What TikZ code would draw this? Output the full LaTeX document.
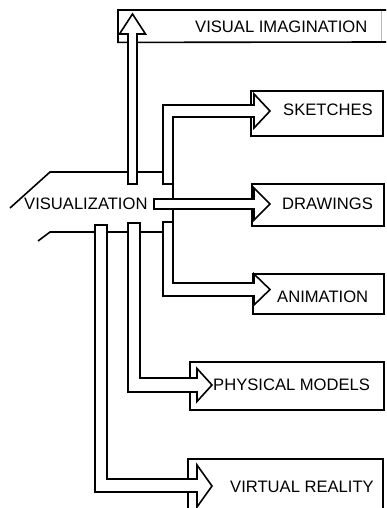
\documentclass[tikz,border=0pt]{standalone}
\usepackage{fontspec}
\setmainfont{Liberation Sans}
\begin{document}
\begin{tikzpicture}[x=1pt,y=-1pt,
  outline/.style={line width=1.6pt, line join=miter, miter limit=4},
  blockarrow/.style={outline, draw=black, fill=white},
  boxframe/.style={outline, draw=black, rectangle, inner sep=0pt, anchor=north west},
  caption/.style={inner sep=0pt, anchor=base west, font=\fontsize{16.6}{18}\selectfont}]
\useasboundingbox (0,0) rectangle (386,508);

% the visualization "plane"
\draw[outline] (10,208) -- (50,172) -- (165,172);
\draw[outline] (38,241) -- (50,232) -- (163,232);
\node[caption] (vis) at (24,209) {VISUALIZATION};

% target boxes
\node[boxframe, minimum width=132pt, minimum height=45pt] (sketchbox) at (250,90) {};
\node[boxframe, minimum width=132pt, minimum height=42pt] (drawbox) at (251,183) {};
\node[boxframe, minimum width=131pt, minimum height=40pt] (animbox) at (252,273) {};
\node[boxframe, minimum width=194pt, minimum height=48pt] (modelbox) at (189,361) {};
% box running off the right and bottom edges
\node[inner sep=0pt, minimum width=263pt, minimum height=32pt, anchor=north west] (imagbox) at (118,10) {};
\draw[outline] (386,10) -- (imagbox.north west) -- (imagbox.south west) -- (386,42);
\draw[gray!55, line width=0.8pt] (381,11) -- (381,41);
\coordinate (vrtl) at (188,459);
\coordinate (vrtr) at (383,459);
\draw[outline] (188,510) -- (vrtl) -- (vrtr) -- (383,510);

% link between the upper and lower vertical stems
\draw[outline] (173,184) -- (173,223);

% block arrows
\draw[blockarrow] (128,184) -- (128,34) -- (119.5,34) -- (132.5,14) -- (145.5,34)
  -- (137,34) -- (137,184) -- cycle;
\draw[blockarrow] (163,184) -- (163,105) -- (254,105) -- (254,94) -- (270,111)
  -- (254,128) -- (254,117) -- (173,117) -- (173,184) -- cycle;
\draw[blockarrow] (163,222) -- (163,296) -- (254,296) -- (254,305) -- (270,289.5)
  -- (254,274) -- (254,283) -- (173,283) -- (173,222) -- cycle;
\draw[blockarrow] (154,199) -- (254,199) -- (254,188) -- (270,204) -- (254,220)
  -- (254,209) -- (154,209) -- cycle;
\draw[blockarrow] (128,223) -- (128,392) -- (197,392) -- (197,401.5) -- (212,385)
  -- (197,368.5) -- (197,378) -- (140,378) -- (140,223) -- cycle;
\draw[blockarrow] (95,225) -- (95,492) -- (197,492) -- (197,507) -- (212,486)
  -- (197,465) -- (197,479) -- (107,479) -- (107,225) -- cycle;

% labels
\node[caption] (imag) at (195,33) {VISUAL IMAGINATION};
\node[caption] (sketch) at (283,115) {SKETCHES};
\node[caption] (draw) at (282,209) {DRAWINGS};
\node[caption] (anim) at (277,302) {ANIMATION};
\node[caption] (model) at (213,390) {PHYSICAL MODELS};
\node[caption] (vr) at (230,492) {VIRTUAL REALITY};
\end{tikzpicture}
\end{document}
